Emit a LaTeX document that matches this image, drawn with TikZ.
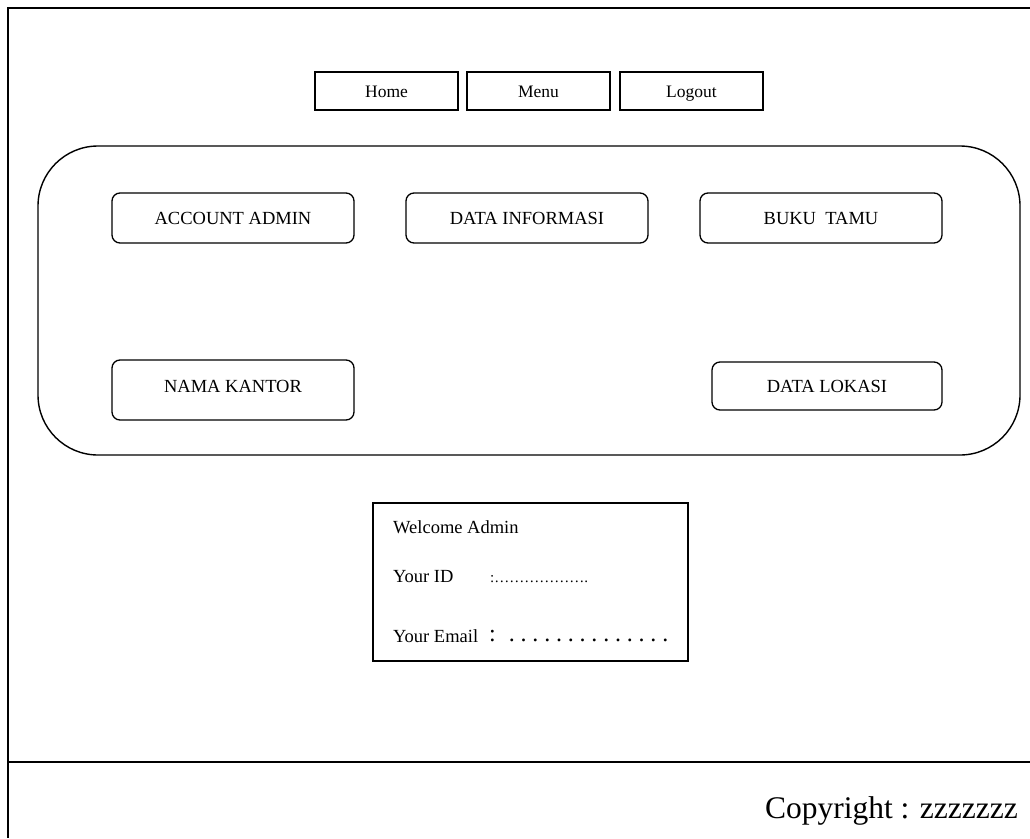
\documentclass[tikz,border=0pt]{standalone}
\usepackage{fontspec}
\setmainfont{Liberation Serif}
\newcommand\emdot{.\hspace{5.8pt}}
\begin{document}
\begin{tikzpicture}[x=1pt,y=-1pt,
  frame/.style={line width=1.6pt},
  navbox/.style={draw,line width=1.6pt,minimum width=143pt,minimum height=38pt,inner sep=0pt,text height=12pt,text depth=0pt,font=\fontsize{17.5}{19}\selectfont},
  menubox/.style={draw,line width=1.3pt,rounded corners=8pt,minimum width=242pt,minimum height=50pt,inner sep=0pt,font=\fontsize{18.5}{20}\selectfont},
  panel/.style={draw,line width=1.4pt,rounded corners=60pt,minimum width=982pt,minimum height=309pt,inner sep=0pt},
  infobox/.style={draw,line width=1.4pt,minimum width=315pt,minimum height=158pt,inner sep=0pt},
  infotext/.style={anchor=base west,inner sep=0pt,font=\fontsize{18.5}{20}\selectfont}
]
\useasboundingbox (0,0) rectangle (1030,838);
% outer frame
\coordinate (tl) at (8,8);
\coordinate (tr) at (1030,8);
\coordinate (bl) at (8,838);
\coordinate (fl) at (8,762);
\coordinate (fr) at (1030,762);
\draw[frame] (tr) -- (tl) -- (bl);
\draw[frame] (fl) -- (fr);
% navigation
\node[navbox] (home) at (386.5,91) {Home};
\node[navbox] (menu) at (538.5,91) {Menu};
\node[navbox] (logout) at (691.5,91) {Logout};
% panel
\node[panel] (panel) at (529,300.5) {};
\node[menubox] (acc) at (233,218) {ACCOUNT ADMIN};
\node[menubox] (info) at (527,218) {DATA INFORMASI};
\node[menubox] (buku) at (821,218) {BUKU\ \ TAMU};
\node[menubox,minimum height=60pt] (nama) at (233,390) {\raisebox{7pt}{NAMA KANTOR}};
\node[menubox,minimum width=230pt,minimum height=48pt] (lok) at (827,386) {DATA LOKASI};
% info box
\node[infobox] (welcome) at (530.5,582) {};
\node[infotext] (wtxt) at (393,533) {Welcome Admin};
\node[infotext] (idtxt) at (393,582) {Your ID};
\node[infotext,font=\fontsize{15}{17}\selectfont] (iddots) at (490,582) {:……………….};
\node[infotext] (emtxt) at (393,642) {Your Email};
\node[infotext,font=\fontsize{24}{26}\selectfont] (emdots) at (489,641) {:\hspace{13pt}\emdot\emdot\emdot\emdot\emdot\emdot\emdot\emdot\emdot\emdot\emdot\emdot\emdot.};
% footer
\node[anchor=base east,inner sep=0pt,font=\fontsize{31.5}{33}\selectfont] (copy) at (1018,818) {Copyright : zzzzzzz};
\end{tikzpicture}
\end{document}
